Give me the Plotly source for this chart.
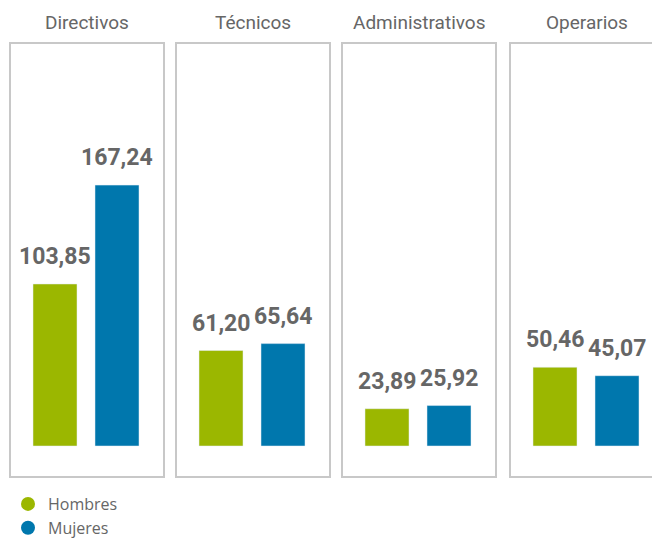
import plotly.graph_objects as go

GREEN = '#9BB700'
BLUE = '#0077AD'
GREY_TEXT = '#666666'
BOX_LINE = '#C8C8C8'
NARROW_FONT = 'Roboto, Liberation Sans, sans-serif'

categories = ['Directivos', 'Técnicos', 'Administrativos', 'Operarios']
series = ['Hombres', 'Mujeres']
hombres = [103.85, 61.20, 23.89, 50.46]
mujeres = [167.24, 65.64, 25.92, 45.07]

W, H = 660, 542
OFF = 8  # page body margin: the figure is drawn 8px right/down
# panel boxes in screen pixels (left, right), top/bottom shared
panels_px = [(10, 164), (176, 330), (342, 496), (510, 664)]
box_top, box_bot = 43 - OFF, 477 - OFF
base_px = 446 - OFF
px_per_unit = 1.56
bar_gap_px = 62
SCREEN_W = 660 - OFF

fig = go.Figure()

for i, cat in enumerate(categories):
    n = i + 1
    xa = 'x' if n == 1 else f'x{n}'
    ya = 'y' if n == 1 else f'y{n}'
    left, right = panels_px[i][0] - OFF, panels_px[i][1] - OFF
    vis_right = min(right, SCREEN_W)
    left_u = -45 / bar_gap_px
    fig.add_trace(go.Bar(
        x=series, y=[hombres[i], mujeres[i]],
        marker_color=[GREEN, BLUE], width=44 / bar_gap_px,
        showlegend=False, hoverinfo='skip',
        xaxis=xa, yaxis=ya,
    ))
    fig.update_layout(**{
        ('xaxis' if n == 1 else f'xaxis{n}'): dict(
            domain=[left / W, vis_right / W], visible=False,
            range=[left_u, left_u + (vis_right - left) / bar_gap_px],
            type='category', anchor=ya,
        ),
        ('yaxis' if n == 1 else f'yaxis{n}'): dict(
            domain=[(H - box_bot) / H, (H - box_top) / H], visible=False,
            range=[-(box_bot - base_px) / px_per_unit, (base_px - box_top) / px_per_unit],
            anchor=xa,
        ),
    })
    # panel frame
    fig.add_shape(type='rect', xref=f'{xa} domain', yref=f'{ya} domain',
                  x0=0, x1=(right - left) / (vis_right - left), y0=0, y1=1,
                  line=dict(color=BOX_LINE, width=2), layer='below')
    # panel title
    fig.add_annotation(text=cat, xref=f'{xa} domain', yref='paper',
                       x=(right - left) / 2 / (vis_right - left), y=(H - (23 - OFF)) / H,
                       showarrow=False, xanchor='center', yanchor='middle',
                       font=dict(family=NARROW_FONT, size=19, color=GREY_TEXT))
    # value labels
    for s, v in zip(series, [hombres[i], mujeres[i]]):
        fig.add_annotation(text=f'{v:.2f}'.replace('.', ','), x=s, y=v,
                           xref=xa, yref=ya, showarrow=False,
                           yanchor='bottom', yshift=12,
                           font=dict(family=NARROW_FONT, size=23, color=GREY_TEXT, weight='bold'))

# legend with round markers
for s, c in zip(series, [GREEN, BLUE]):
    fig.add_trace(go.Scatter(x=[None], y=[None], mode='markers', name=s,
                             marker=dict(color=c, size=14, symbol='circle'),
                             xaxis='x', yaxis='y'))

fig.update_layout(
    width=W, height=H,
    margin=dict(l=0, r=0, t=0, b=0),
    paper_bgcolor='white', plot_bgcolor='white',
    showlegend=True,
    legend=dict(x=0, y=(H - (487 - OFF)) / H, xanchor='left', yanchor='top',
                font=dict(family='Open Sans, sans-serif', size=16, color=GREY_TEXT),
                itemwidth=30, tracegroupgap=0, bgcolor='rgba(0,0,0,0)'),
)

fig.write_html('out.html')
